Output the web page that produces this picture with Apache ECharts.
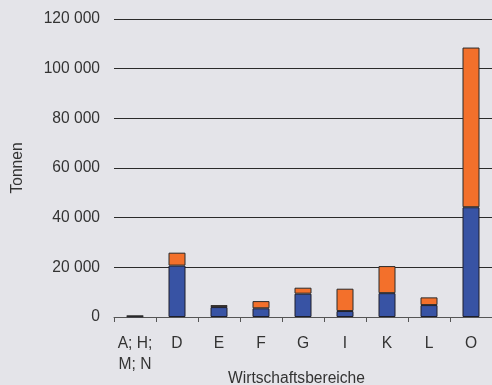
<!DOCTYPE html>
<html><head><meta charset="utf-8">
<script src="https://cdn.jsdelivr.net/npm/echarts@6/dist/echarts.min.js"></script>
<style>html,body{margin:0;padding:0;background:#e4e4e9;}#c{width:492px;height:385px;}</style>
</head><body><div id="c"></div>
<script>
const categories = ['A; H;\nM; N', 'D', 'E', 'F', 'G', 'I', 'K', 'L', 'O'];
const blueValues = [300, 20700, 4000, 3500, 9400, 2400, 9600, 4800, 44200];
const orangeValues = [200, 5200, 800, 2900, 2400, 9000, 10900, 3100, 64300];
const yTicks = { min: 0, max: 120000, interval: 20000 };

const font = '"Liberation Sans", Arial, sans-serif';
const fs = 15.6;
const chart = echarts.init(document.getElementById('c'), null, { renderer: 'canvas' });
chart.setOption({
  backgroundColor: '#e4e4e9',
  animation: false,
  textStyle: { fontFamily: font },
  grid: { left: 114, right: 0, top: 19, bottom: 68, containLabel: false, outerBoundsMode: 'none' },
  xAxis: {
    type: 'category',
    data: categories,
    name: 'Wirtschaftsbereiche',
    nameLocation: 'middle',
    nameGap: 54,
    nameMoveOverlap: false,
    nameTextStyle: { fontFamily: font, fontSize: fs, color: '#333', padding: [0, 13, 0, 0] },
    axisLine: { lineStyle: { color: '#555', width: 1 } },
    axisTick: { show: true, length: 5, lineStyle: { color: '#555' } },
    axisLabel: { fontFamily: font, fontSize: fs, color: '#333', margin: 16, lineHeight: 21, interval: 0 }
  },
  yAxis: {
    type: 'value',
    min: yTicks.min, max: yTicks.max, interval: yTicks.interval,
    name: 'Tonnen',
    nameLocation: 'middle',
    nameGap: 88,
    nameRotate: 90,
    nameMoveOverlap: false,
    nameTextStyle: { fontFamily: font, fontSize: fs, color: '#333' },
    axisLine: { show: false },
    axisTick: { show: false },
    splitLine: { lineStyle: { color: '#2a2a2a', width: 1 } },
    axisLabel: {
      fontFamily: font, fontSize: fs, color: '#333', margin: 14,
      formatter: v => String(v).replace(/\B(?=(\d{3})+(?!\d))/g, ' ')
    }
  },
  series: [
    { type: 'bar', stack: 't', data: blueValues, barWidth: 17,
      itemStyle: { color: '#3853a4', borderColor: '#1e1e2a', borderWidth: 1 } },
    { type: 'bar', stack: 't', data: orangeValues, barWidth: 17,
      itemStyle: { color: '#f3702b', borderColor: '#2a2a2a', borderWidth: 1 } }
  ]
});
</script></body></html>
